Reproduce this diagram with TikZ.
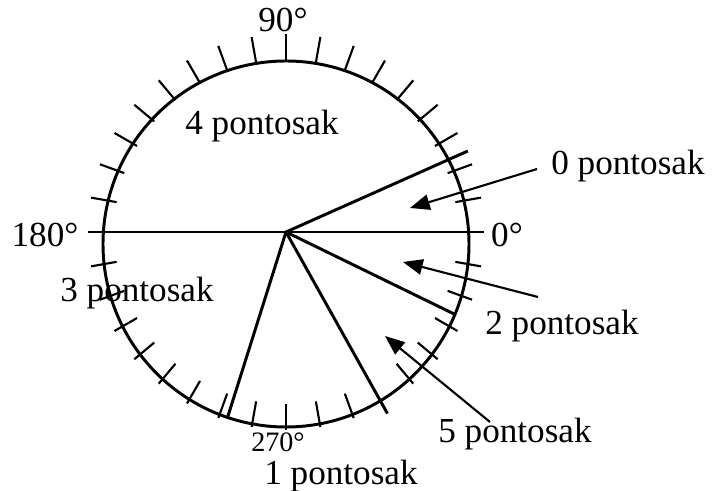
\documentclass[tikz,border=0pt]{standalone}
\usepackage{fontspec}
\setmainfont{Liberation Serif}
\usetikzlibrary{arrows.meta,positioning,calc}
\tikzset{
  lbl/.style={font=\fontsize{25}{30}\selectfont, inner sep=1pt},
  smalllbl/.style={font=\fontsize{20}{24}\selectfont, inner sep=0pt},
  rim/.style={line width=2.1pt},
  spoke/.style={line width=2.1pt},
  tickmark/.style={line width=1.5pt},
  pointer/.style={line width=1.5pt, -{Triangle[length=14pt,width=11pt]}},
}

\begin{document}
\begin{tikzpicture}[x=0.025cm,y=0.025cm]
    \useasboundingbox (-286,-259) rectangle (426,232);
    \coordinate (hub) at (0,0);
    \draw[rim] (0,-12) circle (183);
    \foreach \a in {0,10,...,290,310,320,...,350}
      \draw[tickmark] (\a:172) -- (\a:198);
    \draw[spoke] (180:198) -- (0:198);
    \draw[spoke] (hub) -- (24:199);
    \draw[spoke] (hub) -- (-26:188);
    \draw[spoke] (hub) -- (-60.8:208);
    \draw[spoke] (hub) -- (252.5:194);
    \node[lbl, anchor=base] (d90) at (-3,200) {90°};
    \node[lbl, anchor=base] (d180) at (-241,-15) {180°};
    \node[lbl, anchor=base] (d0) at (221,-15) {0°};
    \node[smalllbl, anchor=base] (d270) at (-8,-220) {270°};
    \node[lbl, anchor=base] (p4) at (-24,97) {4 pontosak};
    \node[lbl, anchor=base] (p3) at (-149,-70) {3 pontosak};
    \node[lbl, anchor=base] (p0) at (342,57) {0 pontosak};
    \node[lbl, anchor=base] (p2) at (276,-103) {2 pontosak};
    \node[lbl, anchor=base] (p5) at (229,-211) {5 pontosak};
    \node[lbl, anchor=base, inner sep=0pt] (p1) at (55,-253) {1 pontosak};
    \coordinate (tail0) at (251,63);
    \coordinate (tip0) at (124,24);
    \coordinate (tail2) at (252,-65);
    \coordinate (tip2) at (117,-30);
    \coordinate (tail5) at (204,-190);
    \coordinate (tip5) at (99,-104);
    \draw[pointer] (tail0) -- (tip0);
    \draw[pointer] (tail2) -- (tip2);
    \draw[pointer] (tail5) -- (tip5);
  \end{tikzpicture}
\end{document}
